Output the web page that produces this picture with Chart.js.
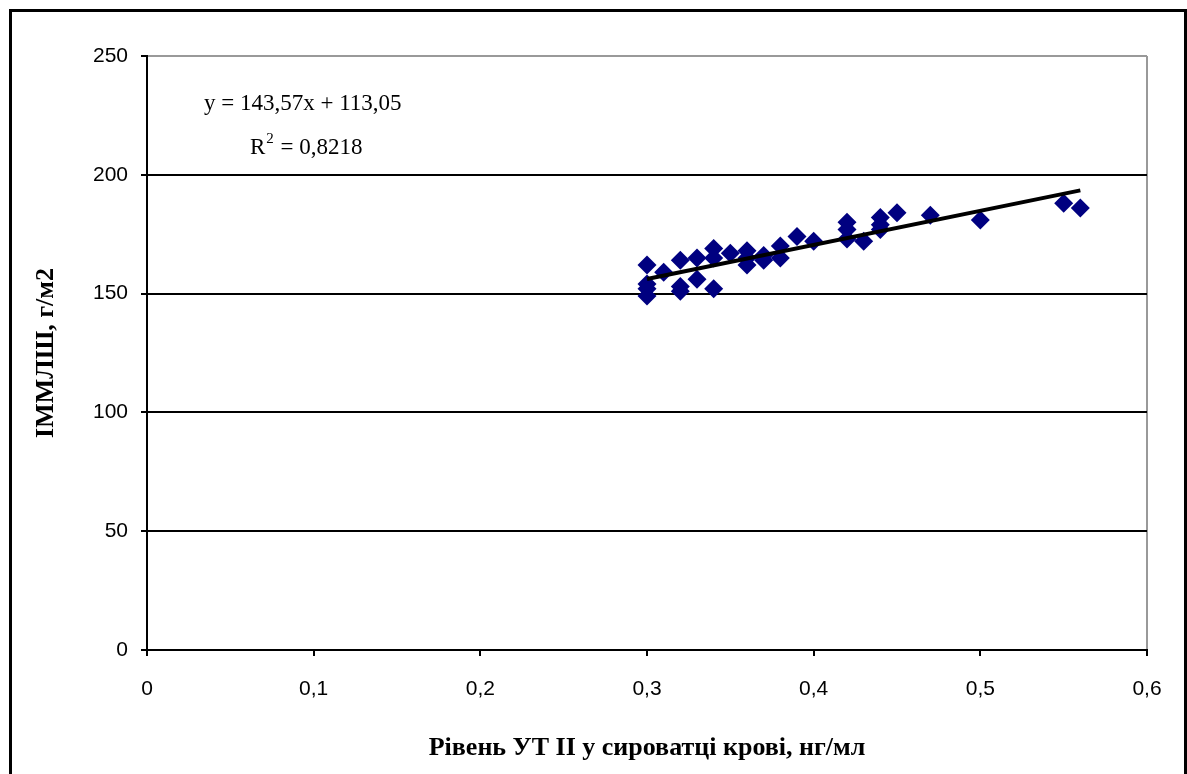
<!DOCTYPE html>
<html>
<head>
<meta charset="utf-8">
<script src="https://cdn.jsdelivr.net/npm/chart.js@4/dist/chart.umd.min.js"></script>
<style>
  html, body { margin: 0; padding: 0; background: #fff; overflow: hidden; }
  #frame {
    position: absolute; left: 9px; top: 9px;
    width: 1172px; height: 800px;
    border: 3px solid #000;
  }
  #wrap { position: absolute; left: 0; top: 0; width: 1187px; height: 774px; }
</style>
</head>
<body>
<div id="frame"></div>
<div id="wrap"><canvas id="myChart" width="1187" height="774"></canvas></div>
<script>
// UT II level in blood serum, ng/ml
const utLevels = [
  0.30, 0.30, 0.30, 0.30, 0.31, 0.32, 0.32, 0.32, 0.33, 0.33,
  0.34, 0.34, 0.34, 0.35, 0.36, 0.36, 0.36, 0.37, 0.37, 0.38,
  0.38, 0.39, 0.40, 0.42, 0.42, 0.42, 0.43, 0.44, 0.44, 0.44,
  0.45, 0.47, 0.50, 0.55, 0.56
];
// left ventricular myocardial mass index, g/m2
const lvmiValues = [
  162, 154, 152, 149, 159, 164, 153, 151, 165, 156,
  169, 165, 152, 167, 168, 165, 162, 166, 164, 170,
  165, 174, 172, 180, 177, 173, 172, 182, 179, 177,
  184, 183, 181, 188, 186
];
const yTicks = [0, 50, 100, 150, 200, 250];
const xTicks = [0, 0.1, 0.2, 0.3, 0.4, 0.5, 0.6];

// linear trend: y = slope * x + intercept
const trendSlope = 143.57;
const trendIntercept = 113.05;
const trendR2 = "0,8218";

document.addEventListener("DOMContentLoaded", function () {
  const ctx = document.getElementById("myChart");

  const points = utLevels.map((x, i) => ({ x: x, y: lvmiValues[i] }));
  const xMin = Math.min(...utLevels);
  const xMax = Math.max(...utLevels);
  const trend = [xMin, xMax].map(x => ({ x: x, y: trendSlope * x + trendIntercept }));

  const comma = v => String(+(+v).toFixed(2)).replace(".", ",");

  // equation text in the upper left of the plot
  const equationLabel = {
    id: "equationLabel",
    afterDatasetsDraw(chart) {
      const c = chart.ctx;
      c.save();
      c.fillStyle = "#000";
      c.textBaseline = "middle";
      c.textAlign = "left";
      c.font = "23px 'Liberation Serif'";
      c.fillText("y = " + comma(trendSlope) + "x + " + comma(trendIntercept), 204, 104);
      let x = 250;
      c.fillText("R", x, 148);
      x += c.measureText("R").width;
      c.font = "15px 'Liberation Serif'";
      c.fillText("2", x + 1, 139);
      x += c.measureText("2").width + 2;
      c.font = "23px 'Liberation Serif'";
      c.fillText(" = " + trendR2, x, 148);
      c.restore();
    }
  };

  new Chart(ctx, {
    type: "scatter",
    data: {
      datasets: [
        {
          label: "trend",
          type: "line",
          data: trend,
          borderColor: "#000",
          borderWidth: 4,
          pointRadius: 0,
          fill: false,
          order: 0
        },
        {
          label: "ІММЛШ",
          data: points,
          pointStyle: "rectRot",
          pointRadius: 9.5,
          backgroundColor: "#000080",
          borderColor: "#000080",
          borderWidth: 0,
          order: 1
        }
      ]
    },
    plugins: [equationLabel],
    options: {
      responsive: false,
      animation: false,
      layout: { padding: { left: 0, top: 56, right: 40, bottom: 0 } },
      plugins: { legend: { display: false }, tooltip: { enabled: false } },
      scales: {
        x: {
          type: "linear",
          min: 0,
          max: 0.6,
          afterBuildTicks: axis => { axis.ticks = xTicks.map(v => ({ value: v })); },
          afterFit: axis => { axis.height = 124; },
          border: { color: "#000", width: 2 },
          grid: {
            color: c => (Math.abs(c.tick.value - 0.6) < 1e-9 ? "#999" : "transparent"),
            tickColor: "#000",
            lineWidth: 2,
            tickLength: 6
          },
          ticks: {
            color: "#000",
            padding: 21,
            maxRotation: 0,
            font: { family: "'Liberation Sans'", size: 21 },
            callback: v => comma(v)
          },
          title: {
            display: true,
            text: "Рівень УТ II у сироватці крові, нг/мл",
            color: "#000",
            font: { family: "'Liberation Serif'", size: 26, weight: "bold" },
            padding: { top: 0, bottom: 10 }
          }
        },
        y: {
          min: 0,
          max: 250,
          afterBuildTicks: axis => { axis.ticks = yTicks.map(v => ({ value: v })); },
          afterFit: axis => { axis.width = 147; },
          border: { color: "#000", width: 2 },
          grid: {
            color: c => (c.tick.value === 250 ? "#999" : "#000"),
            tickColor: "#000",
            lineWidth: 2,
            tickLength: 6
          },
          ticks: {
            color: "#000",
            padding: 13,
            font: { family: "'Liberation Sans'", size: 21 }
          },
          title: {
            display: true,
            text: "ІММЛШ, г/м2",
            color: "#000",
            font: { family: "'Liberation Serif'", size: 26, weight: "bold" },
            padding: { top: 31, bottom: 0 }
          }
        }
      }
    }
  });
});
</script>
</body>
</html>
